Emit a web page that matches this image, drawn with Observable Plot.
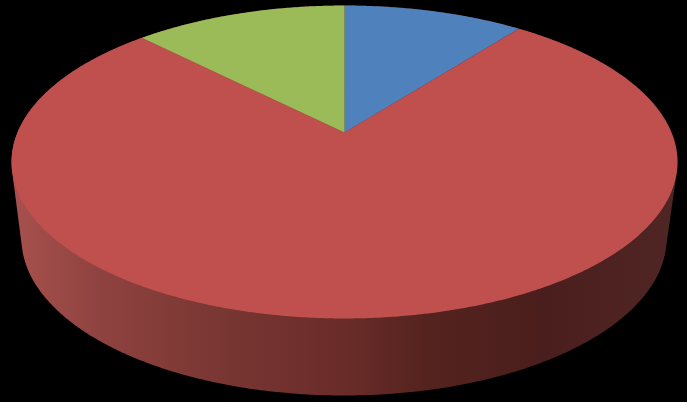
<!DOCTYPE html>
<html>
<head>
<meta charset="utf-8">
<script src="https://cdn.jsdelivr.net/npm/d3@7"></script>
<script src="https://cdn.jsdelivr.net/npm/@observablehq/plot@0.6"></script>
<style>html,body{margin:0;padding:0;background:#000;overflow:hidden}svg{display:block}</style>
</head>
<body>
<div id="chart"></div>
<script>
const sliceNames = ["Blue", "Red", "Green"];
const sliceShares = [0.105, 0.771, 0.124];
const sliceColors = ["#4f81bd", "#c0504d", "#9bbb59"];
const wallStopOffsets = [0, 0.13, 0.3, 0.5, 0.62, 0.8, 1];
const wallStopColors = ["#a8514e", "#8f4340", "#7a3733", "#6a2c29", "#55231f", "#4a1e1c", "#502624"];

// perspective view of the pie's top disc
const apex = {x: 344, y: 132}, k = 0.1885, A = 150.9, B = 327;
const project = (t) => {
  const u = Math.sin(t), v = Math.cos(t), d = 1 + k * v;
  return {x: apex.x + B * u / d, y: apex.y - A * v / d};
};
const arc = (t0, t1) => {
  const n = Math.max(2, Math.ceil((t1 - t0) * 120));
  return d3.range(n + 1).map((i) => project(t0 + (t1 - t0) * i / n));
};

let start = 0;
const slices = sliceShares.map((share, i) => {
  const t0 = start * 2 * Math.PI;
  start += share;
  const t1 = start * 2 * Math.PI;
  return {name: sliceNames[i], color: sliceColors[i], points: [apex, ...arc(t0, t1)]};
});

// outer wall: silhouette enclosing the top disc and the base ellipse
const base = {x: 343.5, y: 238, rx: 322.5, ry: 157};
const baseRim = d3.range(720).map((i) => {
  const t = i / 720 * 2 * Math.PI;
  return [base.x + base.rx * Math.cos(t), base.y + base.ry * Math.sin(t)];
});
const topRim = arc(0, 2 * Math.PI).map((p) => [p.x, p.y]);
const wall = d3.polygonHull([...baseRim, ...topRim]);

const chart = Plot.plot({
  width: 687,
  height: 402,
  margin: 0,
  x: {domain: [0, 687], axis: null},
  y: {domain: [402, 0], axis: null},
  style: {background: "#000"},
  marks: [
    Plot.line(wall, {x: (d) => d[0], y: (d) => d[1], fill: "url(#wall)", stroke: "none", curve: "linear-closed"}),
    ...slices.map((s) =>
      Plot.line(s.points, {x: "x", y: "y", fill: s.color, stroke: "none", curve: "linear-closed", title: () => s.name})
    )
  ]
});

const grad = d3.select(chart).insert("defs", ":first-child")
  .append("linearGradient").attr("id", "wall");
wallStopOffsets.forEach((o, i) =>
  grad.append("stop").attr("offset", o).attr("stop-color", wallStopColors[i]));

document.getElementById("chart").append(chart);
</script>
</body>
</html>
